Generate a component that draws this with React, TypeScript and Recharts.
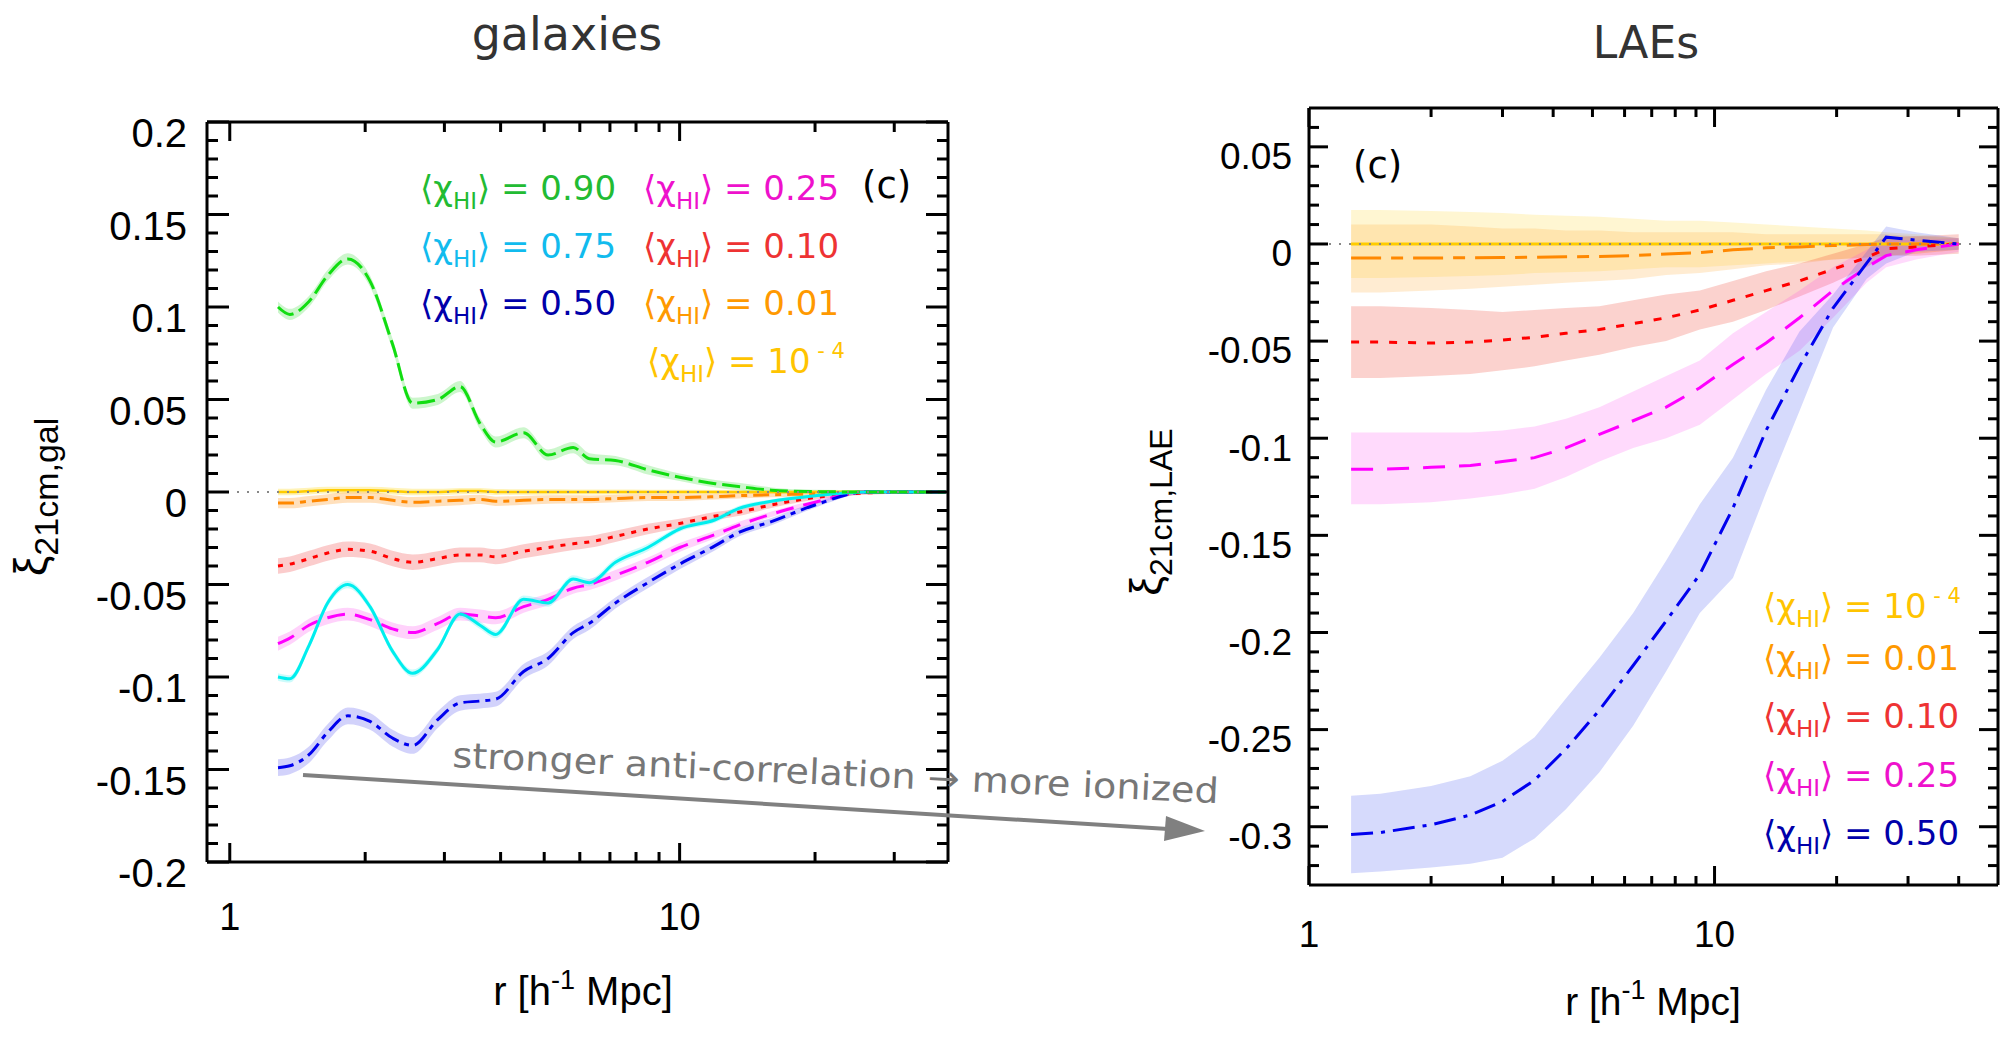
import React from 'react';
import { ComposedChart, Line, Area, XAxis, YAxis, ReferenceLine } from 'recharts';

const SANS = "'Liberation Sans', Arial, sans-serif";
const DEJAVU = "'DejaVu Sans', sans-serif";

// ---------- galaxies panel ----------
const galR = [1.28, 1.36, 1.5, 1.65, 1.83, 2.05, 2.3, 2.55, 2.9, 3.25, 3.6, 3.9, 4.5, 5.1, 5.8, 6.3, 7.2, 8.5, 10, 12, 13.5, 16, 20, 26, 32, 39];
const gal090 = [0.1, 0.096, 0.103, 0.117, 0.126, 0.114, 0.08, 0.048, 0.05, 0.057, 0.037, 0.027, 0.032, 0.02, 0.024, 0.018, 0.017, 0.012, 0.008, 0.0045, 0.003, 0.001, 0.0002, 0, 0, 0];
const gal075 = [-0.1, -0.101, -0.083, -0.06, -0.05, -0.062, -0.086, -0.098, -0.085, -0.066, -0.072, -0.077, -0.058, -0.06, -0.047, -0.049, -0.038, -0.03, -0.02, -0.015, -0.009, -0.005, -0.002, 0, 0, 0];
const gal050 = [-0.149, -0.148, -0.142, -0.13, -0.121, -0.124, -0.133, -0.137, -0.123, -0.114, -0.113, -0.112, -0.097, -0.09, -0.076, -0.071, -0.06, -0.049, -0.039, -0.029, -0.022, -0.016, -0.007, 0, 0, 0];
const gal025 = [-0.082, -0.079, -0.072, -0.068, -0.066, -0.069, -0.074, -0.076, -0.071, -0.066, -0.067, -0.068, -0.062, -0.058, -0.052, -0.05, -0.045, -0.038, -0.03, -0.023, -0.018, -0.012, -0.0055, 0, 0, 0];
const gal010 = [-0.04, -0.039, -0.036, -0.033, -0.031, -0.032, -0.036, -0.038, -0.036, -0.034, -0.034, -0.035, -0.032, -0.03, -0.028, -0.027, -0.024, -0.02, -0.017, -0.013, -0.011, -0.007, -0.003, -0.0005, 0, 0];
const gal001 = [-0.006, -0.006, -0.005, -0.004, -0.003, -0.003, -0.0045, -0.0055, -0.005, -0.0045, -0.004, -0.005, -0.0045, -0.004, -0.004, -0.004, -0.0035, -0.003, -0.003, -0.0025, -0.002, -0.0015, -0.001, 0, 0, 0];
const gal1e4 = [0, 0, 0.0005, 0.001, 0.001, 0.001, 0.0005, 0, 0, 0.0005, 0.0005, 0, 0, 0, 0, 0, 0, 0, 0, 0, 0, 0, 0, 0, 0, 0];

// 1-sigma half widths of the shaded bands
const gal090Err = [0.003, 0.003, 0.003, 0.003, 0.003, 0.003, 0.003, 0.003, 0.003, 0.003, 0.003, 0.003, 0.003, 0.003, 0.003, 0.003, 0.0025, 0.0025, 0.002, 0.002, 0.002, 0.0015, 0.001, 0.001, 0.001, 0.001];
const gal075Err = [0.002, 0.002, 0.002, 0.002, 0.002, 0.002, 0.002, 0.002, 0.002, 0.002, 0.002, 0.002, 0.002, 0.002, 0.002, 0.002, 0.002, 0.002, 0.0015, 0.0015, 0.0015, 0.001, 0.001, 0.001, 0.001, 0.001];
const gal050Err = [0.0045, 0.0045, 0.0045, 0.0045, 0.0045, 0.0045, 0.0045, 0.0045, 0.0045, 0.0042, 0.004, 0.004, 0.004, 0.0038, 0.0035, 0.0035, 0.003, 0.003, 0.0028, 0.0025, 0.0022, 0.002, 0.0015, 0.001, 0.001, 0.001];
const gal025Err = [0.0038, 0.0036, 0.0035, 0.0035, 0.0035, 0.0035, 0.0035, 0.0035, 0.0035, 0.0035, 0.0035, 0.0035, 0.0033, 0.0032, 0.003, 0.003, 0.0028, 0.0026, 0.0024, 0.002, 0.0018, 0.0015, 0.0012, 0.001, 0.001, 0.001];
const gal010Err = [0.0042, 0.0042, 0.0042, 0.0042, 0.0042, 0.0042, 0.0042, 0.0042, 0.004, 0.004, 0.004, 0.004, 0.0038, 0.0036, 0.0034, 0.0032, 0.003, 0.0028, 0.0025, 0.0022, 0.002, 0.0016, 0.0012, 0.001, 0.001, 0.001];
const gal001Err = [0.0028, 0.0028, 0.0028, 0.0028, 0.0028, 0.0028, 0.0028, 0.0028, 0.0027, 0.0026, 0.0025, 0.0025, 0.0024, 0.0023, 0.0022, 0.0021, 0.002, 0.0019, 0.0018, 0.0016, 0.0015, 0.0013, 0.0011, 0.001, 0.001, 0.001];
const gal1e4Err = [0.0018, 0.0018, 0.0018, 0.0018, 0.0018, 0.0018, 0.0018, 0.0018, 0.0017, 0.0017, 0.0016, 0.0016, 0.0015, 0.0015, 0.0014, 0.0014, 0.0013, 0.0012, 0.0012, 0.0011, 0.001, 0.001, 0.001, 0.001, 0.001, 0.001];

const galXTicks = [1, 2, 3, 4, 5, 6, 7, 8, 9, 10, 20, 30];
const galYTicks = [-0.2, -0.19, -0.18, -0.17, -0.16, -0.15, -0.14, -0.13, -0.12, -0.11, -0.1, -0.09, -0.08, -0.07, -0.06, -0.05, -0.04, -0.03, -0.02, -0.01, 0, 0.01, 0.02, 0.03, 0.04, 0.05, 0.06, 0.07, 0.08, 0.09, 0.1, 0.11, 0.12, 0.13, 0.14, 0.15, 0.16, 0.17, 0.18, 0.19, 0.2];

// ---------- LAE panel ----------
const laeR = [1.27, 1.5, 2.0, 2.5, 3.0, 3.6, 4.3, 5.2, 6.3, 7.6, 9.2, 11.1, 13.4, 16.2, 19.6, 23.7, 26.5, 31.4, 40];
const lae050 = [-0.304, -0.303, -0.299, -0.294, -0.287, -0.276, -0.26, -0.24, -0.217, -0.194, -0.17, -0.136, -0.096, -0.063, -0.033, -0.01, 0.0035, 0.002, 0];
const lae050Lo = [-0.324, -0.323, -0.321, -0.319, -0.316, -0.306, -0.291, -0.272, -0.248, -0.22, -0.19, -0.172, -0.128, -0.086, -0.043, -0.018, -0.01, -0.004, -0.003];
const lae050Hi = [-0.284, -0.283, -0.279, -0.274, -0.266, -0.254, -0.234, -0.213, -0.19, -0.163, -0.134, -0.11, -0.075, -0.045, -0.026, -0.004, 0.009, 0.006, 0.003];
const lae025 = [-0.116, -0.116, -0.115, -0.114, -0.112, -0.11, -0.105, -0.098, -0.091, -0.084, -0.074, -0.062, -0.051, -0.038, -0.024, -0.012, -0.006, -0.003, 0];
const lae025Lo = [-0.134, -0.134, -0.133, -0.131, -0.129, -0.126, -0.12, -0.112, -0.105, -0.1, -0.093, -0.08, -0.067, -0.055, -0.038, -0.02, -0.012, -0.008, -0.004];
const lae025Hi = [-0.097, -0.097, -0.097, -0.097, -0.096, -0.094, -0.09, -0.084, -0.076, -0.068, -0.06, -0.046, -0.035, -0.024, -0.012, -0.003, 0.002, 0.002, 0.003];
const lae010 = [-0.0505, -0.0505, -0.051, -0.0505, -0.0495, -0.048, -0.046, -0.044, -0.041, -0.038, -0.034, -0.029, -0.024, -0.019, -0.013, -0.007, -0.0025, -0.0015, 0];
const lae010Lo = [-0.069, -0.069, -0.068, -0.067, -0.065, -0.063, -0.06, -0.057, -0.053, -0.05, -0.044, -0.04, -0.034, -0.027, -0.02, -0.012, -0.006, -0.006, -0.005];
const lae010Hi = [-0.032, -0.032, -0.033, -0.034, -0.035, -0.034, -0.033, -0.032, -0.029, -0.026, -0.024, -0.019, -0.014, -0.01, -0.005, 0, 0.0035, 0.004, 0.005];
const lae001 = [-0.0072, -0.0072, -0.0072, -0.0071, -0.007, -0.0068, -0.0066, -0.0064, -0.006, -0.0052, -0.0045, -0.003, -0.002, -0.0015, -0.0008, -0.0003, 0, 0, 0];
const lae001Lo = [-0.025, -0.025, -0.024, -0.023, -0.022, -0.021, -0.02, -0.019, -0.018, -0.016, -0.015, -0.013, -0.011, -0.01, -0.008, -0.007, -0.006, -0.005, -0.003];
const lae001Hi = [0.01, 0.01, 0.01, 0.009, 0.008, 0.008, 0.007, 0.007, 0.006, 0.006, 0.006, 0.006, 0.005, 0.005, 0.005, 0.005, 0.005, 0.004, 0.003];
const lae1e4 = [0, 0, 0, 0, 0, 0, 0, 0, 0, 0, 0, 0, 0, 0, 0, 0, 0, 0, 0];
const lae1e4Lo = [-0.0175, -0.0175, -0.017, -0.0165, -0.016, -0.015, -0.0145, -0.014, -0.013, -0.012, -0.012, -0.011, -0.01, -0.009, -0.008, -0.007, -0.006, -0.005, -0.003];
const lae1e4Hi = [0.0175, 0.0175, 0.017, 0.0165, 0.016, 0.015, 0.0145, 0.014, 0.013, 0.012, 0.012, 0.011, 0.01, 0.009, 0.008, 0.007, 0.006, 0.005, 0.003];

const laeXTicks = [1, 2, 3, 4, 5, 6, 7, 8, 9, 10, 20, 30, 40];
const laeYTicks = [-0.32, -0.31, -0.3, -0.29, -0.28, -0.27, -0.26, -0.25, -0.24, -0.23, -0.22, -0.21, -0.2, -0.19, -0.18, -0.17, -0.16, -0.15, -0.14, -0.13, -0.12, -0.11, -0.1, -0.09, -0.08, -0.07, -0.06, -0.05, -0.04, -0.03, -0.02, -0.01, 0, 0.01, 0.02, 0.03, 0.04, 0.05, 0.06];

// legend entries
const galLegendLeft = [
  { label: '0.90', color: '#22bb33' },
  { label: '0.75', color: '#11bbee' },
  { label: '0.50', color: '#0000aa' },
];
const galLegendRight = [
  { label: '0.25', color: '#ee11cc' },
  { label: '0.10', color: '#ee3333' },
  { label: '0.01', color: '#ff9900' },
  { label: '10', exp: '- 4', color: '#ffc400' },
];
const laeLegend = [
  { label: '10', exp: '- 4', color: '#ffc400' },
  { label: '0.01', color: '#ff9900' },
  { label: '0.10', color: '#ee3333' },
  { label: '0.25', color: '#ee11cc' },
  { label: '0.50', color: '#0000aa' },
];

const band = (v: number[], e: number[], i: number) => [v[i] - e[i], v[i] + e[i]];

const galData = galR.map((r, i) => ({
  r,
  g090: gal090[i], b090: band(gal090, gal090Err, i),
  g075: gal075[i], b075: band(gal075, gal075Err, i),
  g050: gal050[i], b050: band(gal050, gal050Err, i),
  g025: gal025[i], b025: band(gal025, gal025Err, i),
  g010: gal010[i], b010: band(gal010, gal010Err, i),
  g001: gal001[i], b001: band(gal001, gal001Err, i),
  g1e4: gal1e4[i], b1e4: band(gal1e4, gal1e4Err, i),
}));

const laeData = laeR.map((r, i) => ({
  r,
  l050: lae050[i], b050: [lae050Lo[i], lae050Hi[i]],
  l025: lae025[i], b025: [lae025Lo[i], lae025Hi[i]],
  l010: lae010[i], b010: [lae010Lo[i], lae010Hi[i]],
  l001: lae001[i], b001: [lae001Lo[i], lae001Hi[i]],
  l1e4: lae1e4[i], b1e4: [lae1e4Lo[i], lae1e4Hi[i]],
}));

const fmt = (v: number) => Number(v.toFixed(2)).toString();
const isMajorY = (v: number) => Math.abs(v * 20 - Math.round(v * 20)) < 1e-6;
const isMajorX = (v: number) => v === 1 || v === 10;

// labels sit a little below their tick in the original
function yTick(side: 'left' | 'right', major: number, minor: number, gap: number, fontSize: number, drop = 0) {
  return (p: any) => {
    const v = p.payload.value;
    const big = isMajorY(v);
    const dir = side === 'left' ? 1 : -1;
    return (
      <g>
        <line x1={p.x} x2={p.x + dir * (big ? major : minor)} y1={p.y} y2={p.y} stroke="#000" strokeWidth={3} />
        {side === 'left' && big && (
          <text x={p.x - gap} y={p.y + drop} dy="0.36em" textAnchor="end" fontSize={fontSize} fontFamily={SANS} fill="#000">
            {fmt(v)}
          </text>
        )}
      </g>
    );
  };
}

function xTick(side: 'bottom' | 'top', major: number, minor: number, gap: number, fontSize: number) {
  return (p: any) => {
    const v = p.payload.value;
    const big = isMajorX(v);
    const dir = side === 'bottom' ? -1 : 1;
    return (
      <g>
        <line x1={p.x} x2={p.x} y1={p.y} y2={p.y + dir * (big ? major : minor)} stroke="#000" strokeWidth={3} />
        {side === 'bottom' && big && (
          <text x={p.x} y={p.y + gap} textAnchor="middle" fontSize={fontSize} fontFamily={SANS} fill="#000">
            {v}
          </text>
        )}
      </g>
    );
  };
}

const AXIS = { stroke: '#000', strokeWidth: 3 };

function ChiLabel({ x, y, color, label, exp }: { x: number; y: number; color: string; label: string; exp?: string }) {
  return (
    <text x={x} y={y} fill={color} fontFamily={DEJAVU} fontSize={34}>
      ⟨χ<tspan fontSize={23} dy={9}>HI</tspan>
      <tspan dy={-9}>⟩ = {label}</tspan>
      {exp && <tspan fontSize={21} dy={-15}>{' ' + exp}</tspan>}
    </text>
  );
}

// axes are 1px thick boxes so that recharts draws them; margins are reduced by 1
function GalaxiesChart() {
  const common = { xAxisId: 'b', yAxisId: 'l', isAnimationActive: false };
  const lineProps = { ...common, type: 'monotone' as const, dot: false, activeDot: false, strokeWidth: 3 };
  const bandProps = { ...common, type: 'monotone' as const, stroke: 'none', dot: false, activeDot: false };
  return (
    <ComposedChart width={1000} height={1041} data={galData} margin={{ top: 121, right: 51, bottom: 178, left: 206 }}>
      <XAxis xAxisId="b" dataKey="r" type="number" scale="log" domain={[0.89, 39.5]} allowDataOverflow
        ticks={galXTicks} interval={0} height={1} tickSize={0} tickMargin={0} tickLine={false} axisLine={AXIS}
        tick={xTick('bottom', 19, 10, 68, 38)} />
      <XAxis xAxisId="t" orientation="top" dataKey="r" type="number" scale="log" domain={[0.89, 39.5]} allowDataOverflow
        ticks={galXTicks} interval={0} height={1} tickSize={0} tickMargin={0} tickLine={false} axisLine={AXIS}
        tick={xTick('top', 19, 10, 0, 0)} />
      <YAxis yAxisId="l" type="number" domain={[-0.2, 0.2]} allowDataOverflow ticks={galYTicks} interval={0}
        width={1} tickSize={0} tickMargin={0} tickLine={false} axisLine={AXIS} tick={yTick('left', 22, 11, 20, 40, 11)} />
      <YAxis yAxisId="r" orientation="right" type="number" domain={[-0.2, 0.2]} allowDataOverflow ticks={galYTicks} interval={0}
        width={1} tickSize={0} tickMargin={0} tickLine={false} axisLine={AXIS} tick={yTick('right', 22, 11, 0, 0)} />

      <Area {...bandProps} dataKey="b1e4" fill="#ffdd33" fillOpacity={0.35} />
      <Area {...bandProps} dataKey="b001" fill="#ff9922" fillOpacity={0.3} />
      <Area {...bandProps} dataKey="b010" fill="#ee3333" fillOpacity={0.25} />
      <Area {...bandProps} dataKey="b025" fill="#ff33ee" fillOpacity={0.22} />
      <Area {...bandProps} dataKey="b050" fill="#3333ee" fillOpacity={0.22} />
      <Area {...bandProps} dataKey="b075" fill="#33eeee" fillOpacity={0.25} />
      <Area {...bandProps} dataKey="b090" fill="#33dd33" fillOpacity={0.25} />

      <Line {...lineProps} dataKey="g1e4" stroke="#ffcc00" strokeWidth={2.5} />
      <Line {...lineProps} dataKey="g001" stroke="#ff8800" strokeDasharray="16 6 6 6" />
      <Line {...lineProps} dataKey="g010" stroke="#ff0000" strokeDasharray="5 7" />
      <Line {...lineProps} dataKey="g025" stroke="#ff00ff" strokeDasharray="18 10" />
      <Line {...lineProps} dataKey="g050" stroke="#0000ee" strokeDasharray="16 6 5 6" />
      <Line {...lineProps} dataKey="g075" stroke="#00eeee" />
      <Line {...lineProps} dataKey="g090" stroke="#11dd11" strokeDasharray="18 6" />

      <ReferenceLine xAxisId="b" yAxisId="l" y={0} stroke="#888" strokeWidth={2} strokeDasharray="2 8" />
    </ComposedChart>
  );
}

function LaeChart() {
  const common = { xAxisId: 'b', yAxisId: 'l', isAnimationActive: false };
  const lineProps = { ...common, type: 'linear' as const, dot: false, activeDot: false, strokeWidth: 3 };
  const bandProps = { ...common, type: 'linear' as const, stroke: 'none', dot: false, activeDot: false };
  return (
    <ComposedChart width={1010} height={1041} data={laeData} margin={{ top: 107, right: 11, bottom: 155, left: 308 }}>
      <XAxis xAxisId="b" dataKey="r" type="number" scale="log" domain={[1, 50]} allowDataOverflow
        ticks={laeXTicks} interval={0} height={1} tickSize={0} tickMargin={0} tickLine={false} axisLine={AXIS}
        tick={xTick('bottom', 19, 9, 62, 37)} />
      <XAxis xAxisId="t" orientation="top" dataKey="r" type="number" scale="log" domain={[1, 50]} allowDataOverflow
        ticks={laeXTicks} interval={0} height={1} tickSize={0} tickMargin={0} tickLine={false} axisLine={AXIS}
        tick={xTick('top', 19, 9, 0, 0)} />
      <YAxis yAxisId="l" type="number" domain={[-0.33, 0.07]} allowDataOverflow ticks={laeYTicks} interval={0}
        width={1} tickSize={0} tickMargin={0} tickLine={false} axisLine={AXIS} tick={yTick('left', 19, 10, 17, 37, 9)} />
      <YAxis yAxisId="r" orientation="right" type="number" domain={[-0.33, 0.07]} allowDataOverflow ticks={laeYTicks} interval={0}
        width={1} tickSize={0} tickMargin={0} tickLine={false} axisLine={AXIS} tick={yTick('right', 19, 10, 0, 0)} />

      <Area {...bandProps} dataKey="b1e4" fill="#ffd633" fillOpacity={0.22} />
      <Area {...bandProps} dataKey="b001" fill="#ffaa33" fillOpacity={0.22} />
      <Area {...bandProps} dataKey="b010" fill="#ee3322" fillOpacity={0.22} />
      <Area {...bandProps} dataKey="b025" fill="#ff33ee" fillOpacity={0.18} />
      <Area {...bandProps} dataKey="b050" fill="#3344ee" fillOpacity={0.2} />

      <Line {...lineProps} dataKey="l1e4" stroke="#ffcc00" />
      <Line {...lineProps} dataKey="l001" stroke="#ff8800" strokeDasharray="30 10 12 10" />
      <Line {...lineProps} dataKey="l010" stroke="#ff0000" strokeDasharray="8 11" />
      <Line {...lineProps} dataKey="l025" stroke="#ff00ff" strokeDasharray="22 14" />
      <Line {...lineProps} dataKey="l050" stroke="#0000ee" strokeDasharray="22 8 4 8" />

      <ReferenceLine xAxisId="b" yAxisId="l" y={0} stroke="#888" strokeWidth={2} strokeDasharray="2 8" />
    </ComposedChart>
  );
}

export default function App() {
  return (
    <div style={{ position: 'absolute', left: 0, top: 0, width: 2010, height: 1041, background: '#fff', overflow: 'hidden' }}>
      <div style={{ position: 'absolute', left: 0, top: 0 }}>
        <GalaxiesChart />
      </div>
      <div style={{ position: 'absolute', left: 1000, top: 0 }}>
        <LaeChart />
      </div>
      <svg width={2010} height={1041} style={{ position: 'absolute', left: 0, top: 0, pointerEvents: 'none' }}>
        {/* titles */}
        <text x={567} y={50} textAnchor="middle" fontFamily={DEJAVU} fontSize={46} fill="#333">galaxies</text>
        <text x={1646} y={58} textAnchor="middle" fontFamily={DEJAVU} fontSize={44} fill="#333">LAEs</text>

        {/* y labels */}
        <text transform="rotate(-90 47 497)" x={47} y={497} textAnchor="middle" fontFamily={SANS} fontSize={46} fill="#000">
          ξ<tspan fontSize={34} dy={11}>21cm,gal</tspan>
        </text>
        <text transform="rotate(-90 1161 512)" x={1161} y={512} textAnchor="middle" fontFamily={SANS} fontSize={44} fill="#000">
          ξ<tspan fontSize={32} dy={11}>21cm,LAE</tspan>
        </text>

        {/* x labels */}
        <text x={583} y={1005} textAnchor="middle" fontFamily={SANS} fontSize={40} fill="#000">
          r [h<tspan fontSize={27} dy={-16}>-1</tspan><tspan dy={16}> Mpc]</tspan>
        </text>
        <text x={1653} y={1015} textAnchor="middle" fontFamily={SANS} fontSize={39} fill="#000">
          r [h<tspan fontSize={27} dy={-16}>-1</tspan><tspan dy={16}> Mpc]</tspan>
        </text>

        {/* panel tags */}
        <text x={862} y={198} fontFamily={DEJAVU} fontSize={37} fill="#000">(c)</text>
        <text x={1353} y={178} fontFamily={DEJAVU} fontSize={37} fill="#000">(c)</text>

        {/* legends */}
        {galLegendLeft.map((d, i) => (
          <ChiLabel key={'gl' + i} x={420} y={200 + i * 57.5} color={d.color} label={d.label} />
        ))}
        {galLegendRight.map((d, i) => (
          <ChiLabel key={'gr' + i} x={i === 3 ? 647 : 643} y={200 + i * 57.5} color={d.color} label={d.label} exp={(d as any).exp} />
        ))}
        {laeLegend.map((d, i) => (
          <ChiLabel key={'ll' + i} x={1763} y={[618, 670, 728, 787, 845][i]} color={d.color} label={d.label} exp={(d as any).exp} />
        ))}

        {/* annotation arrow */}
        <text transform="rotate(2.7 452 767)" x={452} y={767} fontFamily={DEJAVU} fontSize={35} fill="#777"
          textLength={767} lengthAdjust="spacingAndGlyphs">
          stronger anti-correlation → more ionized
        </text>
        <line x1={303} y1={775} x2={1168} y2={829} stroke="#808080" strokeWidth={4} />
        <polygon points="1205,831 1164,841 1166,816" fill="#808080" />
      </svg>
    </div>
  );
}
